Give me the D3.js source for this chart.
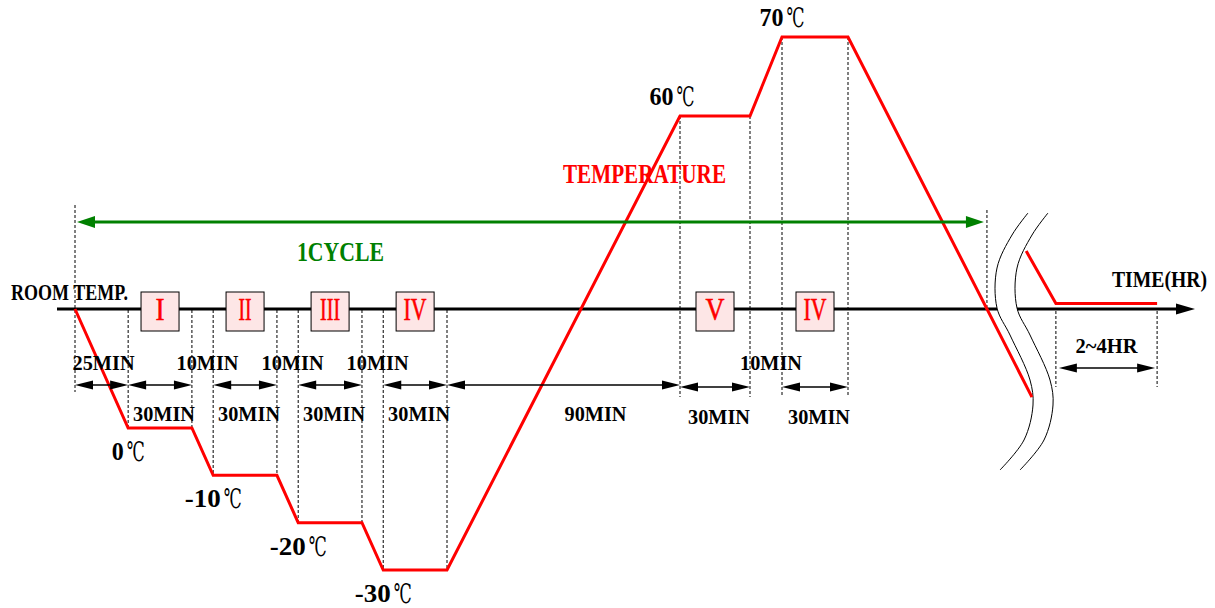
<!DOCTYPE html>
<html>
<head>
<meta charset="utf-8">
<script src="https://cdn.jsdelivr.net/npm/d3@7"></script>
<style>
  body { margin: 0; background: #fff; }
</style>
</head>
<body>
<svg id="chart" width="1215" height="608"></svg>
<script>
// one test cycle: duration of each step (min) and the temperature reached at its end
var stepMinutes = [25, 30, 10, 30, 10, 30, 10, 30, 90, 30, 10, 30];
var stepTemps   = [0, 0, -10, -10, -20, -20, -30, -30, 60, 60, 70, 70];
var roomTemp = 25;
var holdNames = ["I", "II", "III", "IV", "V", "IV"];
// after the 70 hold the ramp runs into the axis break, then back to room temp
var rampDown = {t: 418.6, temp: 6.5};
var afterBreak = [{t: 416, temp: 35.5}, {t: 429.5, temp: 26}, {t: 475.5, temp: 26}];
var restLabel = "2~4HR";

var svg = d3.select("#chart");
var serif = "'Liberation Serif', 'DejaVu Serif', serif";

// schematic scales (the drawing is not to scale, so they are piecewise)
var x = d3.scaleLinear().domain([0, 175, 265, 295, 305, 335]).range([75, 447, 680, 750, 782, 848]);
var y = d3.scaleLinear().domain([-30, 0, 25, 60, 70]).range([570, 428, 309, 116, 37]);
var axisY = y(roomTemp);
var arrowY = 385;

// breakpoints of the temperature curve
var pts = [{t: 0, temp: roomTemp}];
var acc = 0;
stepMinutes.forEach(function(m, i) {
  acc += m;
  pts.push({t: acc, temp: stepTemps[i]});
});

function txt(str, px, py, size, width, opts) {
  opts = opts || {};
  return svg.append("text")
      .attr("x", px).attr("y", py)
      .attr("font-family", opts.family || serif)
      .attr("font-size", size)
      .attr("font-weight", opts.weight || "bold")
      .attr("fill", opts.fill || "#000")
      .attr("text-anchor", opts.anchor || "start")
      .attr("textLength", width)
      .attr("lengthAdjust", "spacingAndGlyphs")
      .text(str);
}

function arrowHead(tipX, tipY, dir, len, half, color) {
  svg.append("path")
      .attr("d", "M" + tipX + "," + tipY +
                 "L" + (tipX - dir * len) + "," + (tipY - half) +
                 "L" + (tipX - dir * len) + "," + (tipY + half) + "Z")
      .attr("fill", color);
}

function dimArrow(x1, x2, yy) {
  svg.append("line")
      .attr("x1", x1 + 8).attr("x2", x2 - 8)
      .attr("y1", yy).attr("y2", yy)
      .attr("stroke", "#000").attr("stroke-width", 1.5);
  arrowHead(x1, yy, -1, 18, 4.5, "#000");
  arrowHead(x2, yy, 1, 18, 4.5, "#000");
}

function dashed(xx, y1, y2) {
  svg.append("line")
      .attr("x1", xx).attr("x2", xx)
      .attr("y1", y1).attr("y2", y2)
      .attr("stroke", "#000").attr("stroke-width", 1)
      .attr("stroke-dasharray", "3,2");
}

// cycle end: where the ramp down crosses room temperature
var pA = [x(pts[pts.length - 1].t), y(pts[pts.length - 1].temp)];
var pB = [x(rampDown.t), y(rampDown.temp)];
var cycleEndX = pA[0] + (axisY - pA[1]) / (pB[1] - pA[1]) * (pB[0] - pA[0]);

// dashed guides
dashed(x(0), 205, 392);
dashed(cycleEndX, 210, axisY);
pts.slice(1).forEach(function(p) {
  var py = y(p.temp);
  dashed(x(p.t), Math.min(py, axisY + 1), Math.max(py, 397));
});
dashed(x(afterBreak[1].t), axisY + 2, 387);
dashed(x(afterBreak[2].t), axisY + 2, 387);

// time axis, cut by the break
var breakL = 997, breakR = 1017;
svg.append("line").attr("x1", 57).attr("x2", breakL)
    .attr("y1", axisY).attr("y2", axisY)
    .attr("stroke", "#000").attr("stroke-width", 3);
svg.append("line").attr("x1", breakR).attr("x2", 1180)
    .attr("y1", axisY).attr("y2", axisY)
    .attr("stroke", "#000").attr("stroke-width", 3);
arrowHead(1195, axisY, 1, 19, 5.5, "#000");

// break marks
var breakPts = [[31, -96], [15, -74], [0, -41], [0, -1], [13, 26], [33, 71], [36, 96], [27, 131], [3, 161]];
var waveLine = d3.line().curve(d3.curveCatmullRom);
[breakL, breakR].forEach(function(bx) {
  svg.append("path")
      .attr("d", waveLine(breakPts.map(function(p) { return [bx + p[0], axisY + p[1]]; })))
      .attr("fill", "none").attr("stroke", "#000").attr("stroke-width", 1);
});

// hold boxes with stage numerals
var holds = [];
pts.forEach(function(p, i) {
  if (i > 0 && pts[i - 1].temp === p.temp) holds.push({t0: pts[i - 1].t, t1: p.t, temp: p.temp});
});
holds.forEach(function(h, i) {
  var cx = (x(h.t0) + x(h.t1)) / 2;
  svg.append("rect")
      .attr("x", cx - 19).attr("y", axisY - 17)
      .attr("width", 38).attr("height", 39)
      .attr("fill", "#fde6e6").attr("stroke", "#000").attr("stroke-width", 1);
  var name = holdNames[i];
  var w = {"I": 9, "II": 13, "III": 20, "IV": 23, "V": 19}[name];
  txt(name, cx, axisY + 11, 32, w, {weight: "normal", fill: "#f00", anchor: "middle"})
      .attr("stroke", "#f00").attr("stroke-width", 0.6);
});

// temperature curve
var line = d3.line().x(function(d) { return x(d.t); }).y(function(d) { return y(d.temp); });
svg.append("path").datum(pts.concat([rampDown]))
    .attr("d", line).attr("fill", "none")
    .attr("stroke", "#f00").attr("stroke-width", 3).attr("stroke-linejoin", "miter");
svg.append("path").datum(afterBreak)
    .attr("d", line).attr("fill", "none")
    .attr("stroke", "#f00").attr("stroke-width", 3);

// temperature labels at each hold
holds.forEach(function(h) {
  var num = String(h.temp);
  var nw = num.length * 12;
  var cx = x(h.t0) + (h.temp === 60 ? -8 : 0);
  var by = h.temp < roomTemp ? y(h.temp) + 32 : y(h.temp) - 11;
  var left = cx - (nw + 21) / 2;
  txt(num, left, by, 25, nw);
  txt("\u2103", left + nw + 3, by + 1, 27, 18, {weight: "normal", family: "'DejaVu Serif', 'Noto Sans CJK JP', serif"});
});

// duration dimensions
pts.slice(1).forEach(function(p, i) {
  var x0 = x(pts[i].t), x1 = x(p.t);
  var m = stepMinutes[i];
  var label = m + "MIN";
  var cx = (x0 + x1) / 2;
  if (m === 10) {
    txt(label, cx + 5, 370, 22, 62, {anchor: "middle"});
    return;
  }
  dimArrow(x0, x1, i >= 9 ? arrowY + 2 : arrowY);
  if (m === 25) txt(label, cx + 2, 370, 22, 62, {anchor: "middle"});
  else txt(label, cx + (m === 90 ? 32 : 4), i >= 9 ? 424 : 421, 22, 62, {anchor: "middle"});
});

// rest period after the cycle
dimArrow(x(afterBreak[1].t) + 3, x(afterBreak[2].t) - 2, 368);
txt(restLabel, (x(afterBreak[1].t) + x(afterBreak[2].t)) / 2, 353, 22, 62, {anchor: "middle"});

// one cycle arrow
svg.append("line").attr("x1", x(0) + 12).attr("x2", cycleEndX - 12)
    .attr("y1", 222).attr("y2", 222)
    .attr("stroke", "#008000").attr("stroke-width", 3);
arrowHead(x(0) + 2, 222, -1, 18, 6, "#008000");
arrowHead(cycleEndX - 3, 222, 1, 18, 6, "#008000");
txt("1CYCLE", 297, 261, 27, 87, {fill: "#008000"});

// titles
txt("ROOM TEMP.", 11, 300, 23, 117);
txt("TIME(HR)", 1112, 287, 24, 95);
txt("TEMPERATURE", 563, 183, 28, 163, {fill: "#f00"});
</script>
</body>
</html>
